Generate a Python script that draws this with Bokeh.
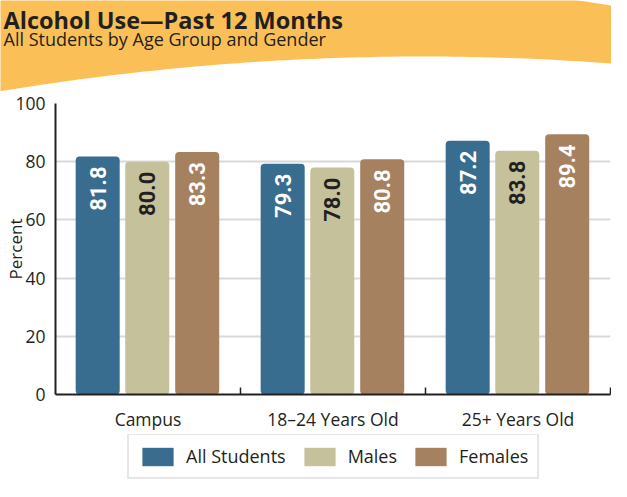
import numpy as np
from math import pi
from bokeh.plotting import figure
from bokeh.models import (ColumnDataSource, Range1d, FixedTicker, Legend,
                          LegendItem)
from bokeh.layouts import column
from bokeh.core.properties import value
from bokeh.embed import file_html
from bokeh.resources import INLINE

# ---------------- data ----------------
title_text = "Alcohol Use\u2014Past 12 Months"
subtitle_text = "All Students by Age Group and Gender"
categories = ["Campus", "18\u201324 Years Old", "25+ Years Old"]
series_names = ["All Students", "Males", "Females"]
all_students = [81.8, 79.3, 87.2]
males = [80.0, 78.0, 83.8]
females = [83.3, 80.8, 89.4]
y_ticks = [0, 20, 40, 60, 80, 100]
y_label = "Percent"

# ---------------- style ----------------
FONT = "Open Sans"
DARK = "#231F20"
ORANGE = "#FBBF57"
colors = ["#386D8F", "#C5C19B", "#A68160"]
label_colors = ["white", DARK, "white"]
offsets = [-0.272, -0.004, 0.266]
bar_w = 0.238

W = 611
HDR_H = 92
MAIN_H = 342
LEG_H = 47

# ---------------- header band (page-reference pixel coordinates) ----------------
hdr = figure(width=W, height=HDR_H, x_range=Range1d(8, 8 + W),
             y_range=Range1d(8 + HDR_H, 8), x_axis_type=None,
             y_axis_type=None, toolbar_location=None, output_backend="svg",
             min_border=0)
hdr.frame_align = False
hdr.outline_line_color = None

xb = np.linspace(620, -10, 80)
yb = 64 + 1.95e-4 * (xb - 430) ** 2
bx = [-10, 470, 622, 625, 620] + list(xb)
by = [-10, -10, 13.5, 17, 72] + list(yb)
hdr.patch(bx, by, fill_color=ORANGE, line_color=None)
hdr.text(x=[11], y=[27], text=[title_text], text_font=value(FONT),
         text_font_style="bold", text_font_size="23.5px", text_color=DARK,
         text_baseline="alphabetic")
hdr.text(x=[11], y=[46], text=[subtitle_text], text_font=value(FONT),
         text_font_size="18px", text_color=DARK, text_baseline="alphabetic")

# ---------------- main chart ----------------
p = figure(width=W, height=MAIN_H, x_range=Range1d(0, len(categories)),
           y_range=Range1d(0, 100), toolbar_location=None,
           output_backend="svg", min_border_left=55, min_border_right=1,
           min_border_top=11, min_border_bottom=40)
p.frame_align = False
p.outline_line_color = None

for i, vals in enumerate([all_students, males, females]):
    src = ColumnDataSource(dict(
        x=[j + 0.5 + offsets[i] for j in range(len(categories))],
        top=vals,
        label=[f"{v:.1f}" for v in vals]))
    p.vbar(x="x", top="top", bottom=0, width=bar_w, source=src,
           fill_color=colors[i], line_color=None, border_radius=4)
    p.text(x="x", y="top", text="label", source=src, angle=pi / 2,
           text_align="right", text_baseline="middle", y_offset=10,
           text_font=value("Roboto"), text_font_style="bold",
           text_font_size="22px", text_color=label_colors[i])

xa = p.xaxis[0]
xa.ticker = FixedTicker(ticks=[j + 0.5 for j in range(len(categories))],
                        minor_ticks=[j + 1 for j in range(len(categories))])
xa.major_label_overrides = {j + 0.5: c for j, c in enumerate(categories)}
xa.major_tick_in = 0
xa.major_tick_out = 0
xa.minor_tick_in = 7
xa.minor_tick_out = 0
xa.minor_tick_line_color = DARK
xa.minor_tick_line_width = 1.5
xa.axis_line_color = DARK
xa.axis_line_width = 2
xa.major_label_standoff = 12
xa.major_label_text_font = FONT
xa.major_label_text_font_size = "17.5px"
xa.major_label_text_color = DARK

ya = p.yaxis[0]
ya.ticker = FixedTicker(ticks=y_ticks, minor_ticks=[])
ya.major_tick_in = 0
ya.major_tick_out = 0
ya.minor_tick_in = 0
ya.minor_tick_out = 0
ya.axis_line_color = DARK
ya.axis_line_width = 2
ya.major_label_standoff = 10
ya.major_label_text_font = FONT
ya.major_label_text_font_size = "17.5px"
ya.major_label_text_color = DARK
ya.axis_label = y_label
ya.axis_label_standoff = -15
ya.axis_label_text_font = FONT
ya.axis_label_text_font_size = "17px"
ya.axis_label_text_font_style = "normal"
ya.axis_label_text_color = DARK

p.xgrid.visible = False
p.ygrid.ticker = FixedTicker(ticks=y_ticks[1:])
p.ygrid.grid_line_color = "#D9D9D9"
p.ygrid.grid_line_width = 2

# ---------------- legend strip ----------------
lf = figure(width=W, height=LEG_H, x_range=Range1d(0, 1),
            y_range=Range1d(0, 1), x_axis_type=None, y_axis_type=None,
            toolbar_location=None, output_backend="svg", min_border=0)
lf.frame_align = False
lf.outline_line_color = None
items = []
for i, name in enumerate(series_names):
    # zero-height swatch renderers: only used to give the legend its colours
    r = lf.vbar(x=[0.5], top=[0], bottom=0, width=0.1, fill_color=colors[i],
                line_color=None)
    items.append(LegendItem(label=name, renderers=[r]))
legend = Legend(items=items, orientation="horizontal", location=(127, 2),
                glyph_width=39, glyph_height=23, label_standoff=9, spacing=14,
                padding=9, margin=0, border_line_color="#CFCFCF",
                border_line_width=2, background_fill_color="white",
                background_fill_alpha=1, label_text_font=FONT,
                label_text_font_size="18px", label_text_color=DARK)
lf.add_layout(legend, "center")

layout = column(hdr, p, lf)
open("out.html", "w").write(file_html(layout, INLINE))
